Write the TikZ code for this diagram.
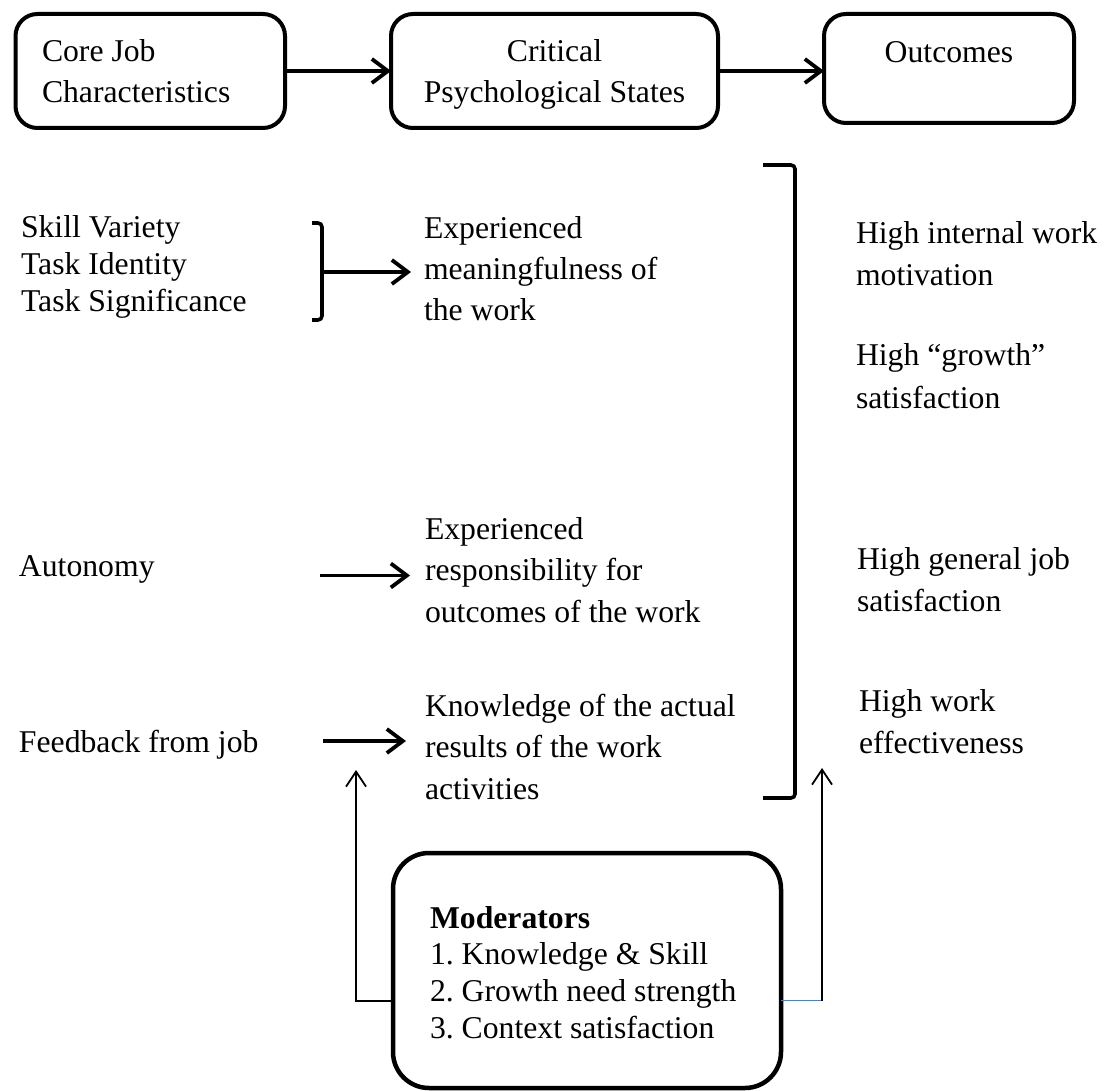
\documentclass[tikz,border=0pt]{standalone}
\usepackage{fontspec}
\setmainfont{Liberation Serif}
\usetikzlibrary{arrows.meta}
\definecolor{linkblue}{HTML}{4F81BD}
\frenchspacing

% text size and stacked lines with a fixed baseline distance
\newcommand\mainsz{\fontsize{31.7pt}{38pt}\selectfont}
\newcommand\stackL[2]{\vtop{\baselineskip=#1\lineskiplimit=-\maxdimen\lineskip=0pt\halign{##\hfil\cr#2\crcr}}}
\newcommand\stackC[2]{\vtop{\baselineskip=#1\lineskiplimit=-\maxdimen\lineskip=0pt\halign{\hfil##\hfil\cr#2\crcr}}}

\begin{document}
\begin{tikzpicture}[x=1pt,y=-1pt,
  txt/.style={inner sep=0pt,outer sep=0pt,anchor=base west,font=\mainsz},
  headbox/.style={draw,line width=4pt,rounded corners=22pt,anchor=north west,
                  inner ysep=0pt,outer sep=0pt,font=\mainsz},
  flow/.style={line width=3.8pt,-{Straight Barb[length=16pt,width=24pt]}},
  brk/.style={line width=3.6pt,rounded corners=4pt},
  feed/.style={line width=1.8pt,-{Straight Barb[length=15pt,width=20pt]}},
]
\useasboundingbox (0,0) rectangle (1106,1091);
\fill[white] (0,0) rectangle (1106,1091);

% ---- header row ----
\node[headbox,inner xsep=26.5pt,text height=48pt,text depth=66pt] (core) at (15.5,14)
  {\makebox[216.5pt][l]{\stackL{41pt}{Core Job\cr Characteristics}}};
\node[headbox,inner xsep=0pt,text height=48pt,text depth=66pt] (states) at (391,14)
  {\makebox[327pt][c]{\stackC{41pt}{Critical\cr Psychological States}}};
\node[headbox,inner xsep=0pt,text height=49pt,text depth=60pt] (outc) at (824,14)
  {\makebox[250pt][c]{Outcomes}};
\draw[flow] (core.east) -- (states.west);
\draw[flow] (states.east) -- (states.east -| outc.west);

% ---- core job characteristics ----
\node[txt] (skills) at (21,238) {\stackL{37pt}{Skill Variety\cr Task Identity\cr Task Significance}};
\node[txt] (auton) at (19,576) {Autonomy};
\node[txt] (feedb) at (19,752) {Feedback from job};

% ---- psychological states ----
\node[txt] (meaning) at (424,239) {\stackL{41pt}{Experienced\cr meaningfulness of\cr the work}};
\node[txt] (respons) at (425,539) {\stackL{41.5pt}{Experienced\cr responsibility for\cr outcomes of the work}};
\node[txt] (knowl) at (425,716) {\stackL{41.5pt}{Knowledge of the actual\cr results of the work\cr activities}};

% ---- outcomes ----
\node[txt] (motiv) at (856,244) {\stackL{42pt}{High internal work\cr motivation}};
\node[txt] (growth) at (856,366) {\stackL{42.5pt}{High “growth”\cr satisfaction}};
\node[txt] (general) at (857,569) {\stackL{42.5pt}{High general job\cr satisfaction}};
\node[txt] (effect) at (859,711) {\stackL{42pt}{High work\cr effectiveness}};

% bracket grouping the first three characteristics
\draw[brk] (312,223) -- (322,223) -- (322,320) -- (312,320);
\coordinate (brkMid) at (322,272);
\draw[flow,shorten >=13pt] (brkMid) -- (brkMid -| meaning.west);

\coordinate (autTail) at (320,575.5);
\draw[flow,shorten >=15pt] (autTail) -- (autTail -| respons.west);
\coordinate (fbTail) at (323,741);
\draw[flow,shorten >=19pt] (fbTail) -- (fbTail -| knowl.west);

% bracket enclosing the psychological states
\draw[brk] (763,165) -- (795,165) -- (795,798) -- (763,798);

% ---- moderators ----
\node[draw,line width=4.5pt,rounded corners=36pt,anchor=north west,inner xsep=37pt,
      inner ysep=0pt,outer sep=0pt,text height=75pt,text depth=160pt,font=\mainsz]
  (moder) at (393,853)
  {\makebox[314pt][l]{\stackL{36.7pt}{\textbf{Moderators}\cr 1. Knowledge \& Skill\cr
   2. Growth need strength\cr 3. Context satisfaction}}};

\coordinate (modLeft) at (356,1000.7);
\coordinate (upLeft) at (356,770);
\draw[feed] (moder.west |- modLeft) -- (modLeft) -- (upLeft);

\coordinate (modRight) at (822,1000.7);
\coordinate (upRight) at (822,768);
\draw[linkblue,line width=1.5pt] (moder.east |- modRight) -- (modRight);
\draw[feed] (modRight) -- (upRight);
\end{tikzpicture}
\end{document}
